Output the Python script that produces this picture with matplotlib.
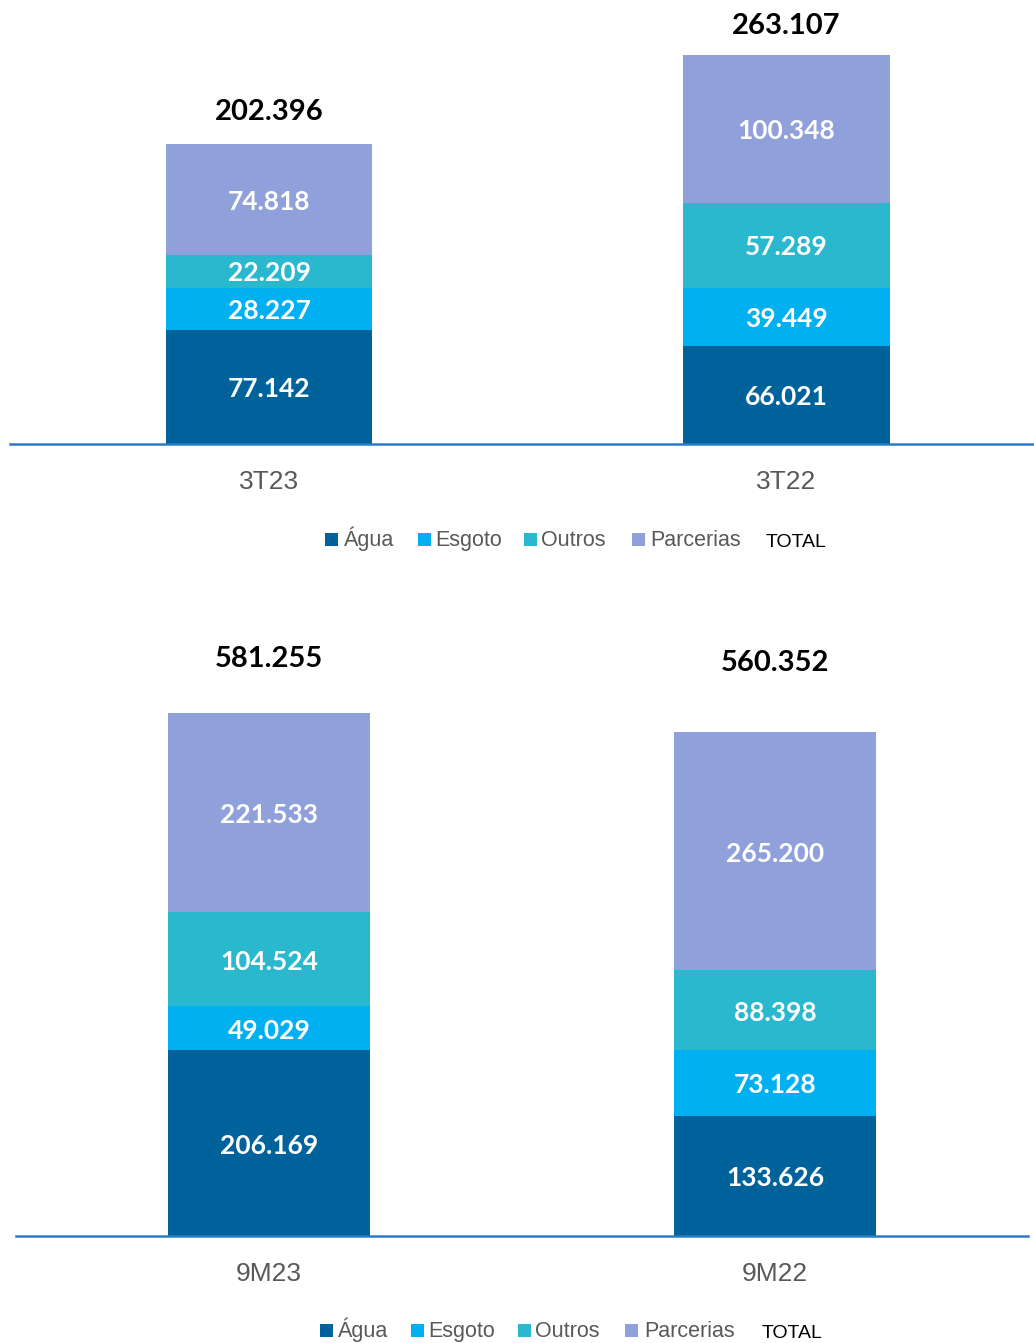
import matplotlib
matplotlib.use("Agg")
import matplotlib.pyplot as plt
from matplotlib.patches import Rectangle
import numpy as np

# data
series = ["Água", "Esgoto", "Outros", "Parcerias"]
colors = ["#00629B", "#00B0F0", "#29B8CE", "#8FA0DB"]

top_cats = ["3T23", "3T22"]
top_vals = {
    "Água": [77.142, 66.021],
    "Esgoto": [28.227, 39.449],
    "Outros": [22.209, 57.289],
    "Parcerias": [74.818, 100.348],
}
top_totals = [202.396, 263.107]

bot_cats = ["9M23", "9M22"]
bot_vals = {
    "Água": [206.169, 133.626],
    "Esgoto": [49.029, 73.128],
    "Outros": [104.524, 88.398],
    "Parcerias": [221.533, 265.200],
}
bot_totals = [581.255, 560.352]

NUM_FONT = ["Lato", "DejaVu Sans"]
CAT_FONT = ["Liberation Sans", "DejaVu Sans"]
AXIS_BLUE = "#2A7AC8"
GREY = "#595959"


def draw(ax, cats, vals, totals, width, xlim, ylim, tot_off):
    x = np.arange(len(cats))
    bottom = np.zeros(len(cats))
    for name, col in zip(series, colors):
        v = np.array(vals[name])
        ax.bar(x, v, width, bottom=bottom, color=col, edgecolor="none", label=name)
        for xi, b, vi in zip(x, bottom, v):
            ax.text(xi, b + vi / 2 - ylim[1] * 0.004, "{:.3f}".format(vi), ha="center", va="center",
                    color="white", fontsize=19, fontweight="bold", family=NUM_FONT)
        bottom += v
    for xi, t, off in zip(x, totals, tot_off):
        ax.annotate("{:.3f}".format(t), (xi, t), xytext=(0, off), textcoords="offset points",
                    ha="center", va="center", fontsize=21, fontweight="bold",
                    color="black", family=NUM_FONT)
    ax.set_xlim(*xlim)
    ax.set_ylim(*ylim)
    for s in ["top", "right", "left"]:
        ax.spines[s].set_visible(False)
    ax.spines["bottom"].set_color(AXIS_BLUE)
    ax.spines["bottom"].set_linewidth(1.8)
    ax.set_yticks([])
    ax.set_xticks(x)
    ax.set_xticklabels(cats, fontsize=19, color=GREY, family=CAT_FONT)
    ax.tick_params(axis="x", length=0, pad=19)


W, H = 1034, 1343
fig = plt.figure(figsize=(W / 100, H / 100), dpi=100)

# top chart: baseline at y=444px, axis line from x=10 to 1034
ax1 = fig.add_axes([10 / W, (H - 444) / H, 1024 / W, 444 / H])
draw(ax1, top_cats, top_vals, top_totals, 0.399, (-0.5005, 1.478), (0, 300), [23.5, 20.5])

# bottom chart: baseline at y=1236px, axis line from x=16 to 1028
ax2 = fig.add_axes([16 / W, (H - 1236) / H, 1012 / W, (1236 - 600) / H])
draw(ax2, bot_cats, bot_vals, bot_totals, 0.399, (-0.5, 1.5), (0, 706.7), [39, 49.5])


def legend(base_y, box_x, text_x, total_x):
    # base_y: text baseline in pixels from top
    for name, col, bx, tx in zip(series, colors, box_x, text_x):
        fig.patches.append(Rectangle((bx / W, 1 - (base_y - 0.5) / H), 13 / W, 13 / H,
                                     transform=fig.transFigure, facecolor=col,
                                     edgecolor="none"))
        fig.text(tx / W, 1 - base_y / H, name, ha="left", va="baseline", fontsize=15.5,
                 color=GREY, family=CAT_FONT)
    fig.text(total_x / W, 1 - (base_y + 1) / H, "TOTAL", ha="left", va="baseline",
             fontsize=14, color="black", family=CAT_FONT)


legend(546, [325, 418, 524, 632], [344, 435, 541, 650], 766)
legend(1337, [320, 411, 518, 625], [338, 428, 535, 644], 762)

fig.savefig("out.png", dpi=100)
